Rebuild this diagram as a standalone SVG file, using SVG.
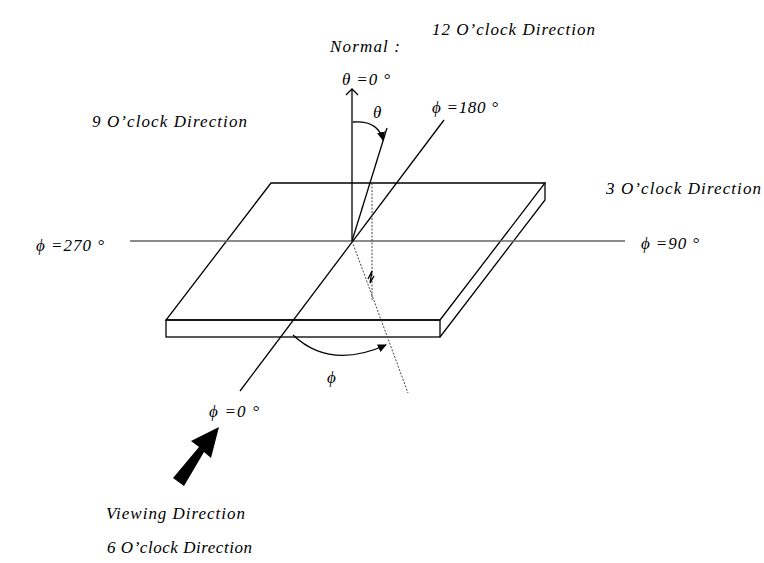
<svg xmlns="http://www.w3.org/2000/svg" width="764" height="563" viewBox="0 0 764 563">
<style>
text{font-family:"Liberation Serif",serif;font-style:italic;font-size:17px;fill:#000}
.l{stroke:#000;stroke-width:1.3;fill:none}
.d{stroke:#444;stroke-width:1;stroke-dasharray:2,1.5;fill:none}
</style>
<defs>
<marker id="a" markerWidth="10" markerHeight="10" refX="8" refY="5" orient="auto" markerUnits="userSpaceOnUse"><path d="M0,1 L9,5 L0,9 Z" fill="#000"/></marker>
<marker id="o" markerWidth="14" markerHeight="14" refX="7" refY="7" orient="auto" markerUnits="userSpaceOnUse"><path d="M1,1 L7,7 L1,13" fill="none" stroke="#000" stroke-width="1.3"/></marker>
</defs>
<rect width="764" height="563" fill="#fff"/>
<g id="plate">
<path class="l" d="M271,183 H545 L440,320 H166 Z" fill="#fff"/>
<rect class="l" x="166" y="320" width="274" height="17" fill="#fff"/>
<path class="l" d="M545,183 V200 L440,337"/>
</g>
<g id="connectors">
<line x1="130" y1="241" x2="625" y2="241" stroke="#666" stroke-width="1.5"/>
<line class="l" x1="352" y1="241" x2="352" y2="89" marker-end="url(#o)"/>
<line class="l" x1="240" y1="391" x2="444" y2="120"/>
<line class="l" x1="352" y1="241" x2="387" y2="128"/>
<line class="d" x1="372" y1="183" x2="372" y2="300"/>
<line class="d" x1="352" y1="241" x2="408" y2="393"/>
<path class="l" d="M368,279 L372,271 L370,283 L374,276" stroke-width="1"/>
<path class="l" d="M353,122 Q378,120 383,140" marker-end="url(#a)"/>
<path class="l" d="M293,335 Q330,370 386,345" marker-end="url(#a)"/>
<path d="M173,478 L199,447 L191,441 L219,427 L211,458 L204,452 L184,486 Z" fill="#000"/>
</g>
<g id="labels">
<text x="330" y="52" textLength="70">Normal :</text>
<text x="432" y="35" textLength="163">12 O’clock Direction</text>
<text x="342" y="85" textLength="48">θ =0 °</text>
<text x="373" y="118" font-size="13">θ</text>
<text x="432" y="113" textLength="66">ϕ =180 °</text>
<text x="92" y="127" textLength="155">9 O’clock Direction</text>
<text x="606" y="194" textLength="155">3 O’clock Direction</text>
<text x="36" y="251" textLength="68">ϕ =270 °</text>
<text x="641" y="249" textLength="58">ϕ =90 °</text>
<text x="327" y="383">ϕ</text>
<text x="209" y="417" textLength="50">ϕ =0 °</text>
<text x="106" y="519" textLength="139">Viewing Direction</text>
<text x="107" y="553" textLength="145">6 O’clock Direction</text>
</g>
</svg>
